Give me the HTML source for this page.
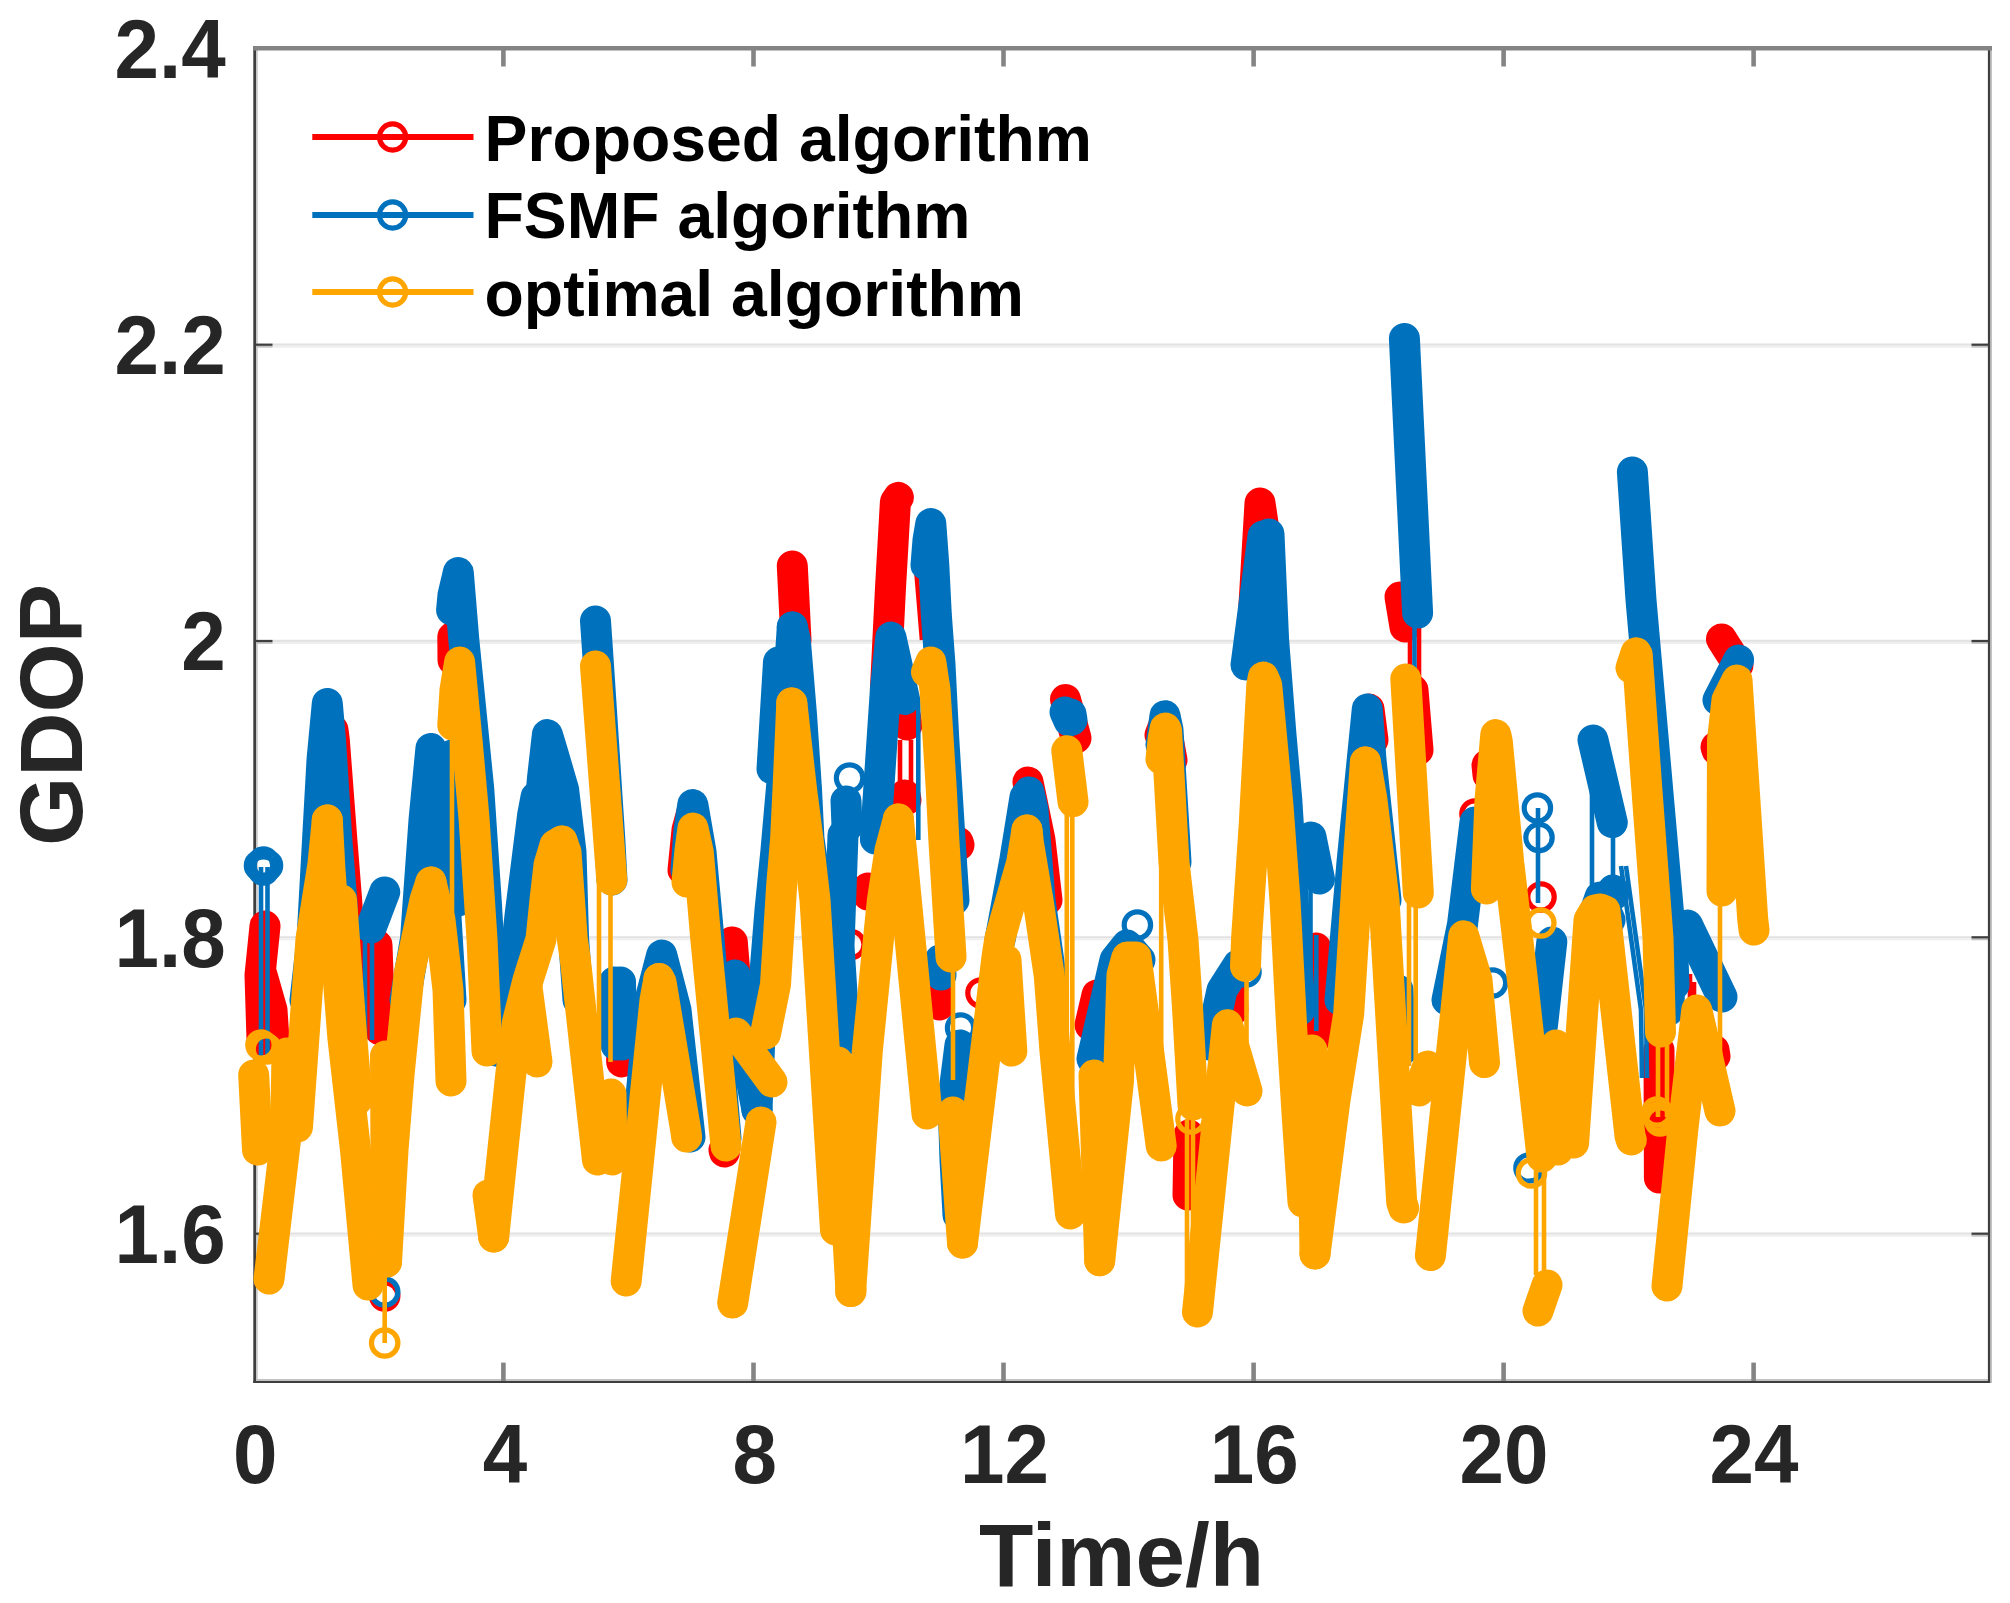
<!DOCTYPE html>
<html lang="en"><head><meta charset="utf-8"><title>GDOP comparison</title>
<style>html,body{margin:0;padding:0;background:#fff;}svg{display:block;}text{font-family:"Liberation Sans",sans-serif;font-weight:bold;}.tk{font-size:80px;fill:#262626;}.lb{font-size:89px;fill:#262626;}.lg{font-size:64.3px;fill:#000;}</style></head><body>
<svg width="2010" height="1603" viewBox="0 0 2010 1603">
<rect x="0" y="0" width="2010" height="1603" fill="#ffffff"/>
<g stroke-width="2.1">
<line stroke="#e2e2e2" x1="255.0" y1="344.6" x2="1990.0" y2="344.6"/>
<line stroke="#efefef" x1="255.0" y1="346.6" x2="1990.0" y2="346.6"/>
<line stroke="#e2e2e2" x1="255.0" y1="640.9" x2="1990.0" y2="640.9"/>
<line stroke="#efefef" x1="255.0" y1="642.9" x2="1990.0" y2="642.9"/>
<line stroke="#e2e2e2" x1="255.0" y1="937.2" x2="1990.0" y2="937.2"/>
<line stroke="#efefef" x1="255.0" y1="939.2" x2="1990.0" y2="939.2"/>
<line stroke="#e2e2e2" x1="255.0" y1="1233.6" x2="1990.0" y2="1233.6"/>
<line stroke="#efefef" x1="255.0" y1="1235.6" x2="1990.0" y2="1235.6"/>
</g>
<g fill="none" stroke-linecap="butt">
<g stroke="#c2c2c2">
<line x1="256.9" y1="48" x2="256.9" y2="1381" stroke-width="1.6"/>
<line x1="1991" y1="48" x2="1991" y2="1383" stroke-width="2"/>
<line x1="253.3" y1="1380" x2="1992" y2="1380" stroke-width="2"/>
<line x1="255.0" y1="346.6" x2="272.5" y2="346.6" stroke-width="2"/>
<line x1="1989.0" y1="346.6" x2="1971.5" y2="346.6" stroke-width="2"/>
<line x1="255.0" y1="642.9" x2="272.5" y2="642.9" stroke-width="2"/>
<line x1="1989.0" y1="642.9" x2="1971.5" y2="642.9" stroke-width="2"/>
<line x1="255.0" y1="939.2" x2="272.5" y2="939.2" stroke-width="2"/>
<line x1="1989.0" y1="939.2" x2="1971.5" y2="939.2" stroke-width="2"/>
<line x1="255.0" y1="1235.6" x2="272.5" y2="1235.6" stroke-width="2"/>
<line x1="1989.0" y1="1235.6" x2="1971.5" y2="1235.6" stroke-width="2"/>
</g>
<g stroke="#3e3e3e">
<line x1="254.65" y1="46" x2="254.65" y2="1382.9" stroke-width="2.7"/>
<line x1="1989" y1="46" x2="1989" y2="1382.9" stroke-width="2.2"/>
<line x1="253.3" y1="1381.9" x2="1990.1" y2="1381.9" stroke-width="2"/>
<line x1="255.0" y1="344.7" x2="272.5" y2="344.7" stroke-width="2.2"/>
<line x1="1989.0" y1="344.7" x2="1971.5" y2="344.7" stroke-width="2.2"/>
<line x1="255.0" y1="641.0" x2="272.5" y2="641.0" stroke-width="2.2"/>
<line x1="1989.0" y1="641.0" x2="1971.5" y2="641.0" stroke-width="2.2"/>
<line x1="255.0" y1="937.3" x2="272.5" y2="937.3" stroke-width="2.2"/>
<line x1="1989.0" y1="937.3" x2="1971.5" y2="937.3" stroke-width="2.2"/>
<line x1="255.0" y1="1233.7" x2="272.5" y2="1233.7" stroke-width="2.2"/>
<line x1="1989.0" y1="1233.7" x2="1971.5" y2="1233.7" stroke-width="2.2"/>
</g>
<g stroke="#848484" stroke-width="4.6">
<line x1="503.4" y1="1381.0" x2="503.4" y2="1362.6"/>
<line x1="503.4" y1="48.0" x2="503.4" y2="66.5"/>
<line x1="753.5" y1="1381.0" x2="753.5" y2="1362.6"/>
<line x1="753.5" y1="48.0" x2="753.5" y2="66.5"/>
<line x1="1003.5" y1="1381.0" x2="1003.5" y2="1362.6"/>
<line x1="1003.5" y1="48.0" x2="1003.5" y2="66.5"/>
<line x1="1253.6" y1="1381.0" x2="1253.6" y2="1362.6"/>
<line x1="1253.6" y1="48.0" x2="1253.6" y2="66.5"/>
<line x1="1503.6" y1="1381.0" x2="1503.6" y2="1362.6"/>
<line x1="1503.6" y1="48.0" x2="1503.6" y2="66.5"/>
<line x1="1753.6" y1="1381.0" x2="1753.6" y2="1362.6"/>
<line x1="1753.6" y1="48.0" x2="1753.6" y2="66.5"/>
<line x1="253.3" y1="48.2" x2="1992" y2="48.2" stroke-width="4.4"/>
</g></g>
<g fill="none" stroke="#ff0000" stroke-linecap="round" stroke-linejoin="round">
<polyline stroke-width="4.6" stroke-linecap="butt" points="1690.0,974.0 1690.0,998.0"/>
<polyline stroke-width="4.6" stroke-linecap="butt" points="1694.0,982.0 1694.0,998.0"/>
<polyline stroke-width="4.6" stroke-linecap="butt" points="1410.0,627.0 1410.0,690.0"/>
<polyline stroke-width="4.6" stroke-linecap="butt" points="1419.0,627.0 1419.0,690.0"/>
<polyline stroke-width="4.6" stroke-linecap="butt" points="916.6,574.7 922.0,640.0"/>
<polyline stroke-width="4.6" stroke-linecap="butt" points="900.0,740.0 900.0,785.0"/>
<polyline stroke-width="4.6" stroke-linecap="butt" points="911.0,740.0 911.0,785.0"/>
<circle cx="1475.0" cy="814.0" r="13.2" stroke-width="5.2"/>
<circle cx="1541.0" cy="897.0" r="13.2" stroke-width="5.2"/>
<circle cx="384.7" cy="1296.0" r="13.2" stroke-width="5.2"/>
<circle cx="850.8" cy="944.6" r="13.2" stroke-width="5.2"/>
<circle cx="981.0" cy="993.0" r="13.2" stroke-width="5.2"/>
<polyline stroke-width="31" points="265.0,926.0 260.0,975.0 262.0,1040.0"/>
<polyline stroke-width="31" points="262.0,975.0 272.0,1010.0 274.0,1040.0"/>
<polyline stroke-width="31" points="333.0,730.0 334.3,740.0 341.8,839.0 346.8,902.0 352.0,1000.0"/>
<polyline stroke-width="31" points="377.0,945.0 380.0,1030.0"/>
<polyline stroke-width="31" points="452.8,637.0 453.0,660.0"/>
<polyline stroke-width="31" points="621.0,1000.0 621.7,1062.0"/>
<polyline stroke-width="31" points="683.0,870.0 687.0,830.0 692.0,812.0"/>
<polyline stroke-width="31" points="732.3,942.0 735.0,975.0"/>
<polyline stroke-width="31" points="724.0,1150.0 724.5,1152.0"/>
<polyline stroke-width="31" points="792.3,566.0 796.0,640.0"/>
<polyline stroke-width="31" points="868.0,888.0 868.0,895.0"/>
<polyline stroke-width="31" points="1189.0,1135.0 1188.0,1195.0"/>
<polyline stroke-width="31" points="1316.0,948.0 1319.0,1035.0"/>
<polyline stroke-width="31" points="1232.0,990.0 1233.0,1010.0"/>
<polyline stroke-width="31" points="885.4,689.5 887.9,639.6 890.4,589.7 895.4,502.0 898.4,497.4"/>
<polyline stroke-width="31" points="905.0,715.0 907.0,725.0"/>
<polyline stroke-width="31" points="905.0,795.0 906.0,800.0"/>
<polyline stroke-width="31" points="958.0,842.0 959.0,845.0"/>
<polyline stroke-width="31" points="939.4,985.0 939.4,1005.0"/>
<polyline stroke-width="31" points="1028.0,782.0 1040.0,840.0 1047.0,900.0"/>
<polyline stroke-width="31" points="1065.5,699.5 1076.0,738.0"/>
<polyline stroke-width="31" points="1090.0,1025.0 1097.0,995.0"/>
<polyline stroke-width="31" points="1160.0,735.0 1165.0,722.0 1172.0,760.0"/>
<polyline stroke-width="31" points="1251.0,655.0 1260.0,503.0 1264.0,530.0"/>
<polyline stroke-width="31" points="1369.0,709.0 1373.0,740.0"/>
<polyline stroke-width="31" points="1400.0,597.0 1405.0,627.0"/>
<polyline stroke-width="31" points="1413.0,690.0 1418.0,750.0"/>
<polyline stroke-width="31" points="1659.0,1050.0 1659.4,1178.0"/>
<polyline stroke-width="31" points="1721.5,639.0 1738.0,665.0"/>
<polyline stroke-width="31" points="1716.0,747.0 1717.0,750.0"/>
<polyline stroke-width="31" points="1487.0,765.0 1488.0,775.0"/>
<polyline stroke-width="31" points="1714.0,1050.0 1715.0,1056.0"/>
</g>
<g fill="none" stroke="#0072bd" stroke-linecap="round" stroke-linejoin="round">
<polyline stroke-width="4.6" stroke-linecap="butt" points="1621.0,866.0 1641.0,1010.0 1642.0,1078.0"/>
<polyline stroke-width="4.6" stroke-linecap="butt" points="1626.0,866.0 1646.0,1010.0 1647.0,1078.0"/>
<polyline stroke-width="4.6" stroke-linecap="butt" points="1414.5,613.0 1414.5,680.0"/>
<polyline stroke-width="4.6" stroke-linecap="butt" points="1310.5,879.0 1310.5,1000.0"/>
<polyline stroke-width="4.6" stroke-linecap="butt" points="1316.3,935.0 1316.3,1031.0"/>
<polyline stroke-width="4.6" stroke-linecap="butt" points="261.0,867.0 261.0,1060.0"/>
<polyline stroke-width="4.6" stroke-linecap="butt" points="267.5,867.0 267.5,1060.0"/>
<polyline stroke-width="4.6" stroke-linecap="butt" points="365.0,930.0 365.0,1040.0"/>
<polyline stroke-width="4.6" stroke-linecap="butt" points="372.0,930.0 372.0,1040.0"/>
<polyline stroke-width="4.6" stroke-linecap="butt" points="836.0,842.0 836.0,1047.0"/>
<polyline stroke-width="4.6" stroke-linecap="butt" points="845.0,842.0 845.0,1047.0"/>
<polyline stroke-width="4.6" stroke-linecap="butt" points="918.3,700.0 918.3,840.0"/>
<polyline stroke-width="4.6" stroke-linecap="butt" points="1538.0,808.0 1538.0,903.0"/>
<polyline stroke-width="4.6" stroke-linecap="butt" points="1592.0,740.0 1592.0,900.0"/>
<polyline stroke-width="4.6" stroke-linecap="butt" points="1613.0,822.0 1613.0,890.0"/>
<circle cx="259.5" cy="865.5" r="13.2" stroke-width="5.2"/>
<circle cx="267.5" cy="865.5" r="13.2" stroke-width="5.2"/>
<circle cx="263.5" cy="862.0" r="13.2" stroke-width="5.2"/>
<circle cx="263.5" cy="870.0" r="13.2" stroke-width="5.2"/>
<circle cx="849.6" cy="778.0" r="13.2" stroke-width="5.2"/>
<circle cx="960.6" cy="1028.0" r="13.2" stroke-width="5.2"/>
<circle cx="1137.4" cy="925.0" r="13.2" stroke-width="5.2"/>
<circle cx="1246.0" cy="972.0" r="13.2" stroke-width="5.2"/>
<circle cx="1537.4" cy="808.0" r="13.2" stroke-width="5.2"/>
<circle cx="1539.0" cy="837.6" r="13.2" stroke-width="5.2"/>
<circle cx="1492.5" cy="983.0" r="13.2" stroke-width="5.2"/>
<circle cx="1529.0" cy="1168.0" r="13.2" stroke-width="5.2"/>
<circle cx="384.7" cy="1292.0" r="13.2" stroke-width="5.2"/>
<polyline stroke-width="31" points="305.0,1000.0 312.0,939.0 322.0,760.0 327.3,703.5 330.5,740.0 336.8,839.0 342.0,902.0 347.0,1000.0"/>
<polyline stroke-width="31" points="384.7,892.0 371.0,928.0"/>
<polyline stroke-width="31" points="405.0,1000.0 415.5,939.0 424.0,820.0 430.9,748.5 437.0,800.0 445.0,900.0 451.0,1000.0"/>
<polyline stroke-width="31" points="451.6,610.0 453.0,595.0 458.3,572.5 463.8,639.8 473.8,739.6 478.8,789.5 486.3,901.8 492.0,1000.0 497.0,1051.0"/>
<polyline stroke-width="31" points="452.0,755.0 458.3,901.0"/>
<polyline stroke-width="31" points="497.0,1051.0 505.0,1000.0 515.0,960.0 520.2,914.0 532.7,814.5 536.0,797.0"/>
<polyline stroke-width="31" points="535.0,860.0 542.6,777.0 547.4,734.6 552.0,750.0 563.6,789.5 571.0,852.0 573.6,939.0 578.0,1000.0"/>
<polyline stroke-width="31" points="595.5,621.0 598.5,665.0 609.8,839.0 612.0,880.0"/>
<polyline stroke-width="31" points="621.7,1045.0 620.5,982.0"/>
<polyline stroke-width="31" points="616.0,1045.0 614.5,982.0"/>
<polyline stroke-width="31" points="636.0,1150.0 650.0,1000.0 661.7,955.0 676.0,1010.0 690.0,1137.0"/>
<polyline stroke-width="31" points="686.0,870.0 689.0,830.0 692.8,804.5 701.0,852.0 709.0,939.0 726.0,1138.0"/>
<polyline stroke-width="31" points="735.0,975.0 738.0,1010.0 757.0,1110.0"/>
<polyline stroke-width="31" points="757.0,1110.0 760.0,1034.0 770.0,910.0 776.0,850.0 783.0,770.0 792.3,627.0"/>
<polyline stroke-width="31" points="772.0,769.0 776.8,690.0 778.5,662.0"/>
<polyline stroke-width="31" points="792.3,627.0 795.3,640.0 801.5,714.5 806.5,789.3 809.0,839.0 818.0,900.0"/>
<polyline stroke-width="31" points="846.0,801.0 847.0,827.0"/>
<polyline stroke-width="31" points="843.0,835.0 839.0,946.0 845.0,1040.0"/>
<polyline stroke-width="31" points="875.4,839.0 880.4,764.4 885.4,689.5 890.4,640.0 890.9,637.0 904.6,699.5"/>
<polyline stroke-width="31" points="926.0,565.0 928.0,540.0 930.8,523.6 933.8,564.8 936.3,614.7 940.0,664.6 943.8,739.4 950.0,839.0 954.0,900.0"/>
<polyline stroke-width="31" points="940.0,960.0 941.0,975.0"/>
<polyline stroke-width="31" points="960.0,1045.0 953.0,1100.0 955.0,1160.0 958.0,1215.0"/>
<polyline stroke-width="31" points="1000.0,940.0 1014.8,860.0 1025.0,797.0 1028.9,792.0 1033.0,810.0 1040.0,900.0 1051.0,976.0"/>
<polyline stroke-width="31" points="1065.0,712.0 1069.0,721.0"/>
<polyline stroke-width="31" points="1071.0,714.0 1072.0,720.0"/>
<polyline stroke-width="31" points="1092.0,1059.0 1115.0,960.0 1127.0,945.0 1140.0,960.0"/>
<polyline stroke-width="31" points="1161.0,745.0 1165.0,715.7 1168.0,730.0 1176.0,862.0"/>
<polyline stroke-width="31" points="1246.0,665.0 1263.0,536.0 1264.5,536.0 1269.0,534.0 1273.6,640.0 1281.0,735.0 1286.8,800.0 1300.0,1010.0"/>
<polyline stroke-width="31" points="1340.0,1000.0 1352.0,862.0 1367.3,709.0 1371.0,760.0 1386.0,900.0"/>
<polyline stroke-width="31" points="1404.4,338.4 1417.6,613.0"/>
<polyline stroke-width="31" points="1447.0,1000.0 1462.5,924.4 1475.0,822.0"/>
<polyline stroke-width="31" points="1593.0,740.0 1612.3,822.6"/>
<polyline stroke-width="31" points="1398.0,990.0 1402.0,1050.0"/>
<polyline stroke-width="31" points="1311.0,837.0 1319.5,879.0"/>
<polyline stroke-width="31" points="1210.0,1045.0 1222.0,990.0 1238.0,965.0"/>
<polyline stroke-width="31" points="1613.0,890.0 1613.5,895.0"/>
<polyline stroke-width="31" points="1551.8,942.0 1542.4,1026.0"/>
<polyline stroke-width="31" points="1592.0,920.0 1600.0,897.0 1610.0,920.0"/>
<polyline stroke-width="31" points="1632.4,472.0 1641.0,600.0 1658.6,800.0 1668.5,912.0 1670.0,960.0 1669.0,1010.0"/>
<polyline stroke-width="31" points="1687.5,925.0 1722.0,997.0"/>
<polyline stroke-width="31" points="1672.0,930.0 1674.0,985.0"/>
<polyline stroke-width="31" points="1738.6,660.0 1718.0,700.0"/>
</g>
<g fill="none" stroke="#ffa500" stroke-linecap="round" stroke-linejoin="round">
<polyline stroke-width="4.6" stroke-linecap="butt" points="1187.0,1119.0 1187.0,1290.0"/>
<polyline stroke-width="4.6" stroke-linecap="butt" points="1193.0,1119.0 1193.0,1290.0"/>
<polyline stroke-width="4.6" stroke-linecap="butt" points="384.7,1252.0 384.7,1343.0"/>
<polyline stroke-width="4.6" stroke-linecap="butt" points="452.0,735.0 452.0,1000.0"/>
<polyline stroke-width="4.6" stroke-linecap="butt" points="599.0,880.0 599.0,1050.0"/>
<polyline stroke-width="4.6" stroke-linecap="butt" points="610.5,880.0 610.5,1062.0"/>
<polyline stroke-width="4.6" stroke-linecap="butt" points="953.0,957.0 953.0,1080.0"/>
<polyline stroke-width="4.6" stroke-linecap="butt" points="1066.8,800.0 1066.8,1100.0"/>
<polyline stroke-width="4.6" stroke-linecap="butt" points="1072.3,800.0 1072.3,1100.0"/>
<polyline stroke-width="4.6" stroke-linecap="butt" points="1161.2,759.0 1161.2,1146.0"/>
<polyline stroke-width="4.6" stroke-linecap="butt" points="1246.5,966.0 1246.5,1091.0"/>
<polyline stroke-width="4.6" stroke-linecap="butt" points="1409.0,893.0 1409.0,1066.0"/>
<polyline stroke-width="4.6" stroke-linecap="butt" points="1415.7,893.0 1415.7,1066.0"/>
<polyline stroke-width="4.6" stroke-linecap="butt" points="1536.0,1165.0 1536.0,1275.0"/>
<polyline stroke-width="4.6" stroke-linecap="butt" points="1544.0,1165.0 1544.0,1275.0"/>
<polyline stroke-width="4.6" stroke-linecap="butt" points="1658.0,1032.0 1658.0,1117.0"/>
<polyline stroke-width="4.6" stroke-linecap="butt" points="1667.0,1032.0 1667.0,1117.0"/>
<polyline stroke-width="4.6" stroke-linecap="butt" points="1720.0,906.0 1720.0,1111.0"/>
<circle cx="261.0" cy="1045.0" r="13.2" stroke-width="5.2"/>
<circle cx="266.5" cy="1049.0" r="13.2" stroke-width="5.2"/>
<circle cx="1657.0" cy="1112.0" r="13.2" stroke-width="5.2"/>
<circle cx="1660.0" cy="1121.0" r="13.2" stroke-width="5.2"/>
<circle cx="1191.0" cy="1119.0" r="13.2" stroke-width="5.2"/>
<circle cx="263.7" cy="1047.0" r="13.2" stroke-width="5.2"/>
<circle cx="384.7" cy="1343.0" r="13.2" stroke-width="5.2"/>
<circle cx="1531.5" cy="1173.0" r="13.2" stroke-width="5.2"/>
<circle cx="1540.8" cy="923.0" r="13.2" stroke-width="5.2"/>
<circle cx="1658.0" cy="1117.0" r="13.2" stroke-width="5.2"/>
<polyline stroke-width="31" points="253.7,1075.0 257.5,1150.0"/>
<polyline stroke-width="31" points="269.0,1279.0 285.5,1140.0 287.0,1053.0"/>
<polyline stroke-width="31" points="297.5,1127.0 311.0,939.0 323.0,864.0 327.3,820.0"/>
<polyline stroke-width="31" points="327.3,820.0 330.0,870.0 336.0,950.0 342.8,1037.0 355.5,1150.0 368.0,1285.0"/>
<polyline stroke-width="31" points="341.5,900.0 351.7,1037.0 357.0,1100.0"/>
<polyline stroke-width="31" points="385.5,1056.0 386.5,1262.0"/>
<polyline stroke-width="31" points="386.5,1262.0 393.0,1150.0 399.0,1075.0 409.0,975.0 416.6,939.0 425.0,900.0 431.0,882.0"/>
<polyline stroke-width="31" points="431.0,882.0 440.0,920.0 448.0,990.0 451.0,1081.0"/>
<polyline stroke-width="31" points="452.8,725.0 455.0,690.0 459.6,662.0 467.0,740.0 474.0,818.0 482.0,939.0 487.0,1051.0"/>
<polyline stroke-width="31" points="488.0,1195.0 493.7,1237.0"/>
<polyline stroke-width="31" points="493.7,1237.0 510.7,1075.0 517.5,1022.0 528.0,980.0 541.0,939.0 545.0,900.0 549.0,865.0 555.0,845.0 562.0,841.0"/>
<polyline stroke-width="31" points="527.0,987.0 537.0,1062.0"/>
<polyline stroke-width="31" points="562.0,841.0 566.0,852.0 572.3,939.0 575.0,957.0 597.5,1160.0"/>
<polyline stroke-width="31" points="611.0,1094.0 612.0,1160.0"/>
<polyline stroke-width="31" points="595.5,666.0 611.8,880.0"/>
<polyline stroke-width="31" points="626.2,1281.0 655.0,1000.0 659.0,978.6"/>
<polyline stroke-width="31" points="659.0,978.6 661.0,982.0 686.0,1132.0 686.6,1137.0"/>
<polyline stroke-width="31" points="687.0,882.0 690.0,850.0 693.0,828.0 698.3,852.0 705.8,939.0 726.0,1146.0"/>
<polyline stroke-width="31" points="736.0,1033.0 772.0,1082.0"/>
<polyline stroke-width="31" points="732.7,1303.0 761.0,1122.0"/>
<polyline stroke-width="31" points="765.5,1034.0 775.5,984.5 781.7,885.0 785.6,839.0 788.0,789.0 791.8,703.0"/>
<polyline stroke-width="31" points="791.8,703.0 801.5,789.0 808.0,839.0 815.0,900.0 835.5,1230.0"/>
<polyline stroke-width="31" points="838.0,1062.0 851.0,1291.5"/>
<polyline stroke-width="31" points="850.6,1291.5 867.3,1051.0 882.4,900.0 890.0,850.0 898.4,819.0"/>
<polyline stroke-width="31" points="898.4,819.0 927.0,1114.0"/>
<polyline stroke-width="31" points="926.5,672.0 930.8,662.0 935.0,689.5 941.3,789.3 943.8,839.0 951.0,957.0"/>
<polyline stroke-width="31" points="953.0,1112.0 962.5,1243.0"/>
<polyline stroke-width="31" points="962.5,1243.0 997.0,957.0 1000.0,938.0 1021.7,862.5 1027.0,830.0"/>
<polyline stroke-width="31" points="1027.0,830.0 1028.5,843.6 1038.0,900.0 1049.3,976.0 1055.0,1051.6 1070.5,1214.0"/>
<polyline stroke-width="31" points="1006.0,960.0 1011.8,1051.0"/>
<polyline stroke-width="31" points="1094.0,1075.0 1099.7,1260.7"/>
<polyline stroke-width="31" points="1099.7,1260.7 1118.4,1082.0 1122.0,975.0 1127.0,957.0 1136.0,957.0 1161.2,1146.0"/>
<polyline stroke-width="31" points="1066.8,750.7 1073.0,801.7"/>
<polyline stroke-width="31" points="1161.0,759.0 1163.0,740.0 1165.3,728.0 1166.5,730.0 1174.0,862.5 1183.0,940.0 1187.4,1006.0 1193.0,1105.0"/>
<polyline stroke-width="31" points="1197.5,1312.0 1227.4,1024.7 1247.0,1091.0"/>
<polyline stroke-width="31" points="1245.5,966.5 1246.6,938.0 1254.2,824.7 1261.8,685.0 1263.3,677.0 1266.7,685.0 1278.0,805.8 1285.0,900.3 1291.7,1028.0 1297.2,1116.0 1303.0,1202.0"/>
<polyline stroke-width="31" points="1312.0,1050.0 1315.0,1254.0"/>
<polyline stroke-width="31" points="1315.0,1254.0 1335.0,1100.0 1348.7,1013.7 1358.2,862.5 1365.4,762.0"/>
<polyline stroke-width="31" points="1365.4,762.0 1372.0,800.0 1384.0,900.0 1401.7,1202.0 1403.6,1208.0"/>
<polyline stroke-width="31" points="1405.8,679.0 1418.3,893.0"/>
<polyline stroke-width="31" points="1427.8,1066.0 1419.0,1091.0"/>
<polyline stroke-width="31" points="1430.4,1255.6 1463.7,935.8 1477.0,980.0 1484.5,1062.5"/>
<polyline stroke-width="31" points="1486.4,889.0 1490.0,800.0 1495.8,734.6 1497.3,741.5 1508.7,862.5 1522.0,976.0 1542.0,1157.0"/>
<polyline stroke-width="31" points="1556.0,1045.0 1558.0,1150.0"/>
<polyline stroke-width="31" points="1547.0,1285.0 1538.0,1311.0"/>
<polyline stroke-width="31" points="1573.6,1143.0 1589.0,920.0 1595.0,910.0 1600.0,909.0 1605.0,911.0 1630.0,1136.0 1631.3,1140.0"/>
<polyline stroke-width="31" points="1631.0,668.0 1636.0,652.7 1637.2,654.5 1646.7,787.0 1658.0,938.0 1660.5,1032.0"/>
<polyline stroke-width="31" points="1667.0,1286.0 1682.8,1129.6 1696.8,1010.0 1720.0,1111.0"/>
<polyline stroke-width="31" points="1722.0,891.0 1722.5,740.0 1727.0,700.0 1737.0,680.0 1752.7,919.0 1754.0,930.0"/>
</g>
<text class="tk" text-anchor="middle" transform="translate(255.3,1483.0) scale(1,1.035)">0</text>
<text class="tk" text-anchor="middle" transform="translate(505.1,1483.0) scale(1,1.035)">4</text>
<text class="tk" text-anchor="middle" transform="translate(754.8,1483.0) scale(1,1.035)">8</text>
<text class="tk" text-anchor="middle" transform="translate(1004.6,1483.0) scale(1,1.035)">12</text>
<text class="tk" text-anchor="middle" transform="translate(1254.3,1483.0) scale(1,1.035)">16</text>
<text class="tk" text-anchor="middle" transform="translate(1504.1,1483.0) scale(1,1.035)">20</text>
<text class="tk" text-anchor="middle" transform="translate(1753.9,1483.0) scale(1,1.035)">24</text>
<text class="tk" text-anchor="end" transform="translate(225.8,77.7) scale(1,1.035)">2.4</text>
<text class="tk" text-anchor="end" transform="translate(225.8,374.1) scale(1,1.035)">2.2</text>
<text class="tk" text-anchor="end" transform="translate(225.8,670.4) scale(1,1.035)">2</text>
<text class="tk" text-anchor="end" transform="translate(225.8,966.7) scale(1,1.035)">1.8</text>
<text class="tk" text-anchor="end" transform="translate(225.8,1263.1) scale(1,1.035)">1.6</text>
<text class="lb" text-anchor="middle" x="1121.5" y="1585.5">Time/h</text>
<text class="lb" text-anchor="middle" transform="translate(82.0,715.0) rotate(-90)">GDOP</text>
<g fill="none" stroke="#ff0000"><line x1="312.3" y1="137.0" x2="473.5" y2="137.0" stroke-width="6.2"/><circle cx="392.6" cy="137.0" r="13.1" stroke-width="5.2"/></g>
<text class="lg" x="484.6" y="160.6">Proposed algorithm</text>
<g fill="none" stroke="#0072bd"><line x1="312.3" y1="215.0" x2="473.5" y2="215.0" stroke-width="6.2"/><circle cx="392.6" cy="215.0" r="13.1" stroke-width="5.2"/></g>
<text class="lg" x="484.6" y="238.3">FSMF algorithm</text>
<g fill="none" stroke="#ffa500"><line x1="312.3" y1="292.0" x2="473.5" y2="292.0" stroke-width="6.2"/><circle cx="392.6" cy="292.0" r="13.1" stroke-width="5.2"/></g>
<text class="lg" x="484.6" y="315.9">optimal algorithm</text>
</svg></body></html>
